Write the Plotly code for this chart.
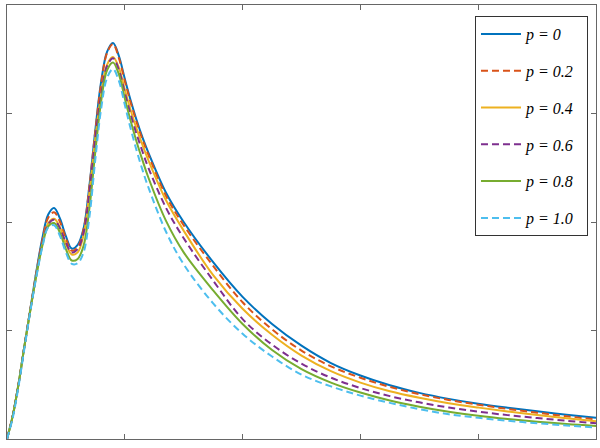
import plotly.graph_objects as go

# x samples: fine steps over the two peaks, coarser along the tail
x = [0, 0.05, 0.10, 0.15, 0.20, 0.25, 0.30, 0.35, 0.40, 0.45, 0.50, 0.55,
     0.60, 0.65, 0.70, 0.75, 0.80, 0.85, 0.90, 0.95, 1.00, 1.05, 1.10, 1.15, 1.20,
     1.35, 1.50, 1.75, 2.00, 2.25, 2.50, 2.75, 3.00, 3.25, 3.50, 3.75, 4.00, 4.25, 4.50, 4.75, 5.00]

y_p00 = [0, 0.22, 0.52, 0.87, 1.21, 1.55, 1.85, 2.07, 2.13, 2.03, 1.87, 1.755,
         1.79, 1.94, 2.34, 2.85, 3.30, 3.57, 3.65, 3.53, 3.32, 3.12, 2.94, 2.78, 2.64,
         2.27, 2.00, 1.63, 1.31, 1.06, 0.86, 0.70, 0.585, 0.495, 0.425, 0.37, 0.325, 0.288, 0.255, 0.224, 0.195]
y_p02 = [0, 0.22, 0.52, 0.87, 1.21, 1.54, 1.83, 2.04, 2.09, 2.00, 1.85, 1.735,
         1.77, 1.93, 2.33, 2.84, 3.28, 3.56, 3.64, 3.51, 3.30, 3.10, 2.92, 2.76, 2.62,
         2.24, 1.97, 1.595, 1.26, 1.01, 0.815, 0.67, 0.565, 0.48, 0.413, 0.36, 0.316, 0.277, 0.242, 0.21, 0.18]
y_p04 = [0, 0.22, 0.52, 0.87, 1.20, 1.52, 1.80, 1.99, 2.03, 1.95, 1.80, 1.70,
         1.72, 1.88, 2.28, 2.78, 3.18, 3.45, 3.52, 3.42, 3.22, 3.03, 2.86, 2.71, 2.57,
         2.20, 1.92, 1.51, 1.20, 0.96, 0.768, 0.625, 0.52, 0.44, 0.38, 0.33, 0.29, 0.254, 0.222, 0.192, 0.164]
y_p06 = [0, 0.22, 0.52, 0.87, 1.20, 1.52, 1.80, 1.98, 2.02, 1.94, 1.81, 1.72,
         1.75, 1.90, 2.28, 2.78, 3.18, 3.44, 3.51, 3.40, 3.19, 2.99, 2.81, 2.65, 2.50,
         2.13, 1.85, 1.46, 1.105, 0.87, 0.694, 0.565, 0.47, 0.395, 0.338, 0.29, 0.252, 0.22, 0.193, 0.168, 0.145]
y_p08 = [0, 0.22, 0.52, 0.87, 1.20, 1.51, 1.78, 1.96, 1.99, 1.90, 1.75, 1.645,
         1.66, 1.78, 2.13, 2.65, 3.12, 3.40, 3.47, 3.36, 3.14, 2.93, 2.74, 2.57, 2.41,
         2.01, 1.72, 1.37, 1.06, 0.82, 0.644, 0.52, 0.428, 0.355, 0.298, 0.252, 0.215, 0.185, 0.16, 0.138, 0.12]
y_p10 = [0, 0.20, 0.50, 0.85, 1.19, 1.50, 1.77, 1.95, 1.97, 1.87, 1.72, 1.615,
         1.62, 1.72, 2.05, 2.58, 3.05, 3.33, 3.41, 3.30, 3.08, 2.86, 2.66, 2.48, 2.32,
         1.91, 1.61, 1.25, 0.97, 0.76, 0.594, 0.485, 0.40, 0.333, 0.275, 0.228, 0.195, 0.168, 0.145, 0.125, 0.106]

labels = ["p = 0", "p = 0.2", "p = 0.4", "p = 0.6", "p = 0.8", "p = 1.0"]
series = [y_p00, y_p02, y_p04, y_p06, y_p08, y_p10]
colors = ['#0072BD', '#D95319', '#EDB120', '#7E2F8E', '#77AC30', '#4DBEEE']
dashes = ['solid', '7px,4px', 'solid', '7px,4px', 'solid', '7px,4px']

fig = go.Figure()
for i in range(len(series)):
    fig.add_trace(go.Scatter(
        x=x, y=series[i], mode='lines',
        name='<i>' + labels[i] + '</i>&nbsp;&nbsp;',
        legendgroup='g%d' % i,
        line=dict(color=colors[i], width=2, dash=dashes[i], shape='spline', smoothing=1.0)
    ))

axis_style = dict(
    showgrid=False, zeroline=False, showticklabels=False,
    showline=True, linecolor='#666666', linewidth=1, mirror='ticks',
    ticks='inside', ticklen=5, tickcolor='#666666',
)

fig.update_layout(
    width=600, height=448,
    margin=dict(l=7, r=4, t=5, b=9),
    paper_bgcolor='white', plot_bgcolor='white',
    font=dict(family='Liberation Serif', size=16, color='black'),
    xaxis=dict(range=[0, 5], dtick=1, **axis_style),
    yaxis=dict(range=[0, 4], dtick=1, **axis_style),
    legend=dict(
        x=0.9864, y=0.9747, xanchor='right', yanchor='top',
        bgcolor='white', bordercolor='#333333', borderwidth=1,
        tracegroupgap=13, itemwidth=40, valign='top',
        font=dict(family='Liberation Serif', size=16, color='black')
    ),
    showlegend=True,
)

# drop the page's default body margin so the figure sits at the window origin
fig.write_html("out.html", config={'displayModeBar': False},
               post_script="document.body.style.margin='0px';")
